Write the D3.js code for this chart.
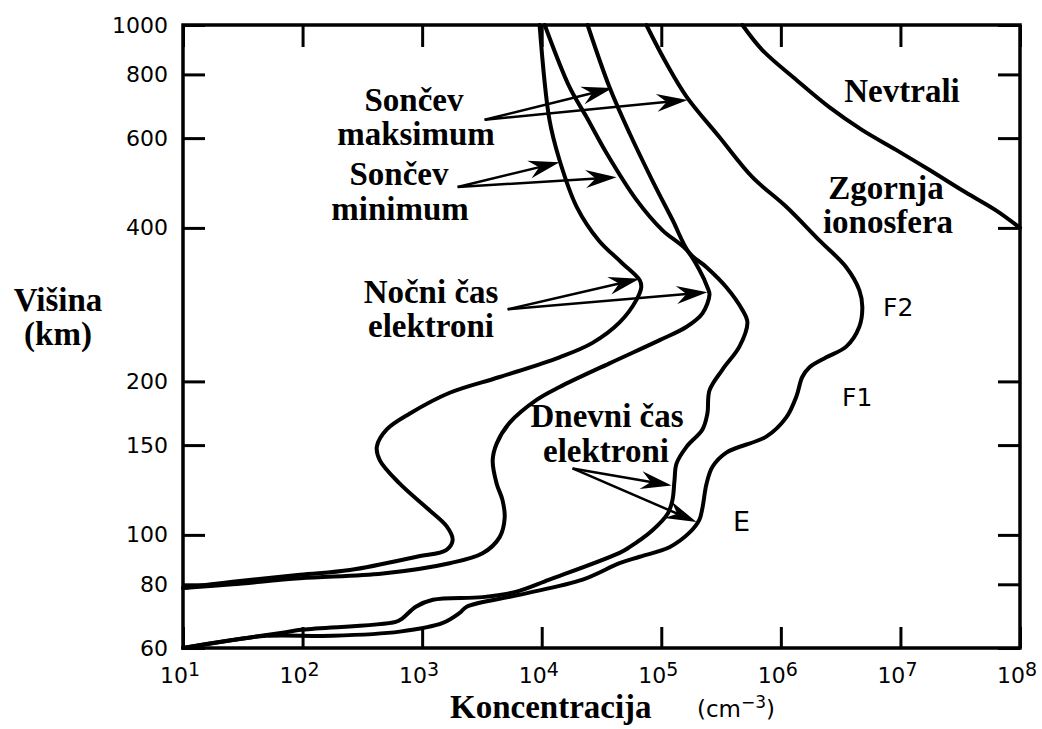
<!DOCTYPE html>
<html>
<head>
<meta charset="utf-8">
<script src="https://cdn.jsdelivr.net/npm/d3@7"></script>
<style>
  body { margin: 0; background: #fff; }
  .serif { font-family: "Liberation Serif", "Times New Roman", serif; font-weight: bold; font-size: 33px; }
  .sans { font-family: "DejaVu Sans", sans-serif; }
</style>
</head>
<body>
<svg id="chart" width="1042" height="729"></svg>
<script>
// tick values
var altTicks = [60, 80, 100, 150, 200, 400, 600, 800, 1000];
var concTicks = [1e1, 1e2, 1e3, 1e4, 1e5, 1e6, 1e7, 1e8];

// profiles: [concentration cm^-3, altitude km]
var neutrals = [[4.77e5,1000],[7.0e5,893],[1.35e6,780],[2.54e6,690],[4.8e6,622],[9.2e6,569],
  [1.74e7,520],[3.28e7,474],[6.3e7,433],[1e8,400]];

var nightLow = [[9.6e3,1000],[1.16e4,652],[1.41e4,543],[1.96e4,440],[3.0e4,378],[4.6e4,343],
  [6.6e4,316],[6.8e4,306],[6.2e4,289],[4.48e4,261],[2.66e4,238],[1.41e4,223],[4.45e3,204],
  [1.7e3,190],[790,173],[506,161],[418,149],[443,140],[650,126],[1.09e3,113],[1.6e3,104],
  [1.8e3,97.8],[1.6e3,93.5],[900,90.6],[248,85.3],[95,83.5],[26,80.9],[10,78.7]];

var nightHigh = [[1.06e4,1000],[1.71e4,755],[2.37e4,660],[3.48e4,561],[6.2e4,454],[1.02e5,396],
  [1.63e5,362],[2.08e5,331],[2.43e5,306],[2.53e5,296],[2.21e5,272],[1.63e5,256],[9.7e4,241],
  [3.69e4,217],[1.41e4,195],[9.06e3,184],[5.4e3,166],[4.2e3,151],[3.89e3,140],[4.2e3,126],
  [4.7e3,117],[4.9e3,108],[4.45e3,99],[3.2e3,92],[1.7e3,88],[469,84],[95,82.2],[26,80],[10,78.7]];

var dayLow = [[2.42e4,1000],[3.69e4,755],[5.42e4,614],[8.4e4,496],[1.24e5,415],[1.72e5,357],
  [2.39e5,335],[3.5e5,306],[4.77e5,276],[5.25e5,261],[4.5e5,234],[3.25e5,211],[2.53e5,192],
  [2.43e5,173],[2.21e5,161],[1.63e5,149],[1.34e5,138],[1.29e5,128],[1.24e5,117],[1.13e5,110],
  [8.4e4,102],[5.42e4,94.6],[4.48e4,92.2],[1.16e4,81.7],[6.05e3,77.3],[3.2e3,75.5],[1.23e3,74.6],
  [885,72.3],[689,68.7],[601,67.5],[101,65.2],[68,64.3],[26,62.2],[10,60]];

var dayHigh = [[7.5e4,1000],[1.1e5,842],[1.63e5,723],[3.06e5,603],[5.78e5,503],[1.11e6,440],
  [2.1e6,378],[3.52e6,335],[4.53e6,302],[4.8e6,280],[4.53e6,256],[3.52e6,234],[2.4e6,223],
  [1.73e6,213],[1.51e6,204],[1.35e6,187],[1.11e6,170],[7.6e5,156],[3.5e5,145],[2.68e5,136],
  [2.39e5,126],[2.21e5,113],[2.08e5,107],[1.72e5,101],[1.17e5,94.6],[6.6e4,90.6],[4.48e4,88],
  [2.2e4,81.7],[6.5e3,76.3],[2.36e3,72.3],[2.06e3,70.3],[1.49e3,67.2],[650,64.6],[179,63.4],
  [50,63.4],[26,62.2],[10,60]];

// annotation arrows: common start, two tips each
var arrowStarts = [[3.33e3,652],[1.98e3,481],[5.19e3,277],[1.81e4,135]];
var arrowTips = [
  [[3.91e4,752],[1.66e5,713]],
  [[1.41e4,538],[4.23e4,503]],
  [[6.58e4,318],[2.43e5,299]],
  [[1.22e5,125],[1.97e5,106]]
];

var svg = d3.select("#chart");
svg.append("rect").attr("width", 1042).attr("height", 729).attr("fill", "#fff");

var x = d3.scaleLog().domain([1e1, 1e8]).range([183, 1020]);
var y = d3.scaleLog().domain([60, 1000]).range([648, 25]);

function styleAxis(g) {
  g.select(".domain").remove();
  g.selectAll(".tick line").attr("stroke", "#000").attr("stroke-width", 3);
  g.attr("font-family", "DejaVu Sans").attr("font-size", 22);
  g.selectAll("text").attr("fill", "#000");
}

//axes
svg.append("g").attr("transform", "translate(183,0)")
  .call(d3.axisLeft(y).tickValues(altTicks).tickFormat(d3.format("d"))
    .tickSize(-22).tickSizeOuter(0).tickPadding(15))
  .call(styleAxis);
svg.append("g").attr("transform", "translate(1020,0)")
  .call(d3.axisRight(y).tickValues(altTicks).tickFormat("").tickSize(-22).tickSizeOuter(0))
  .call(styleAxis);
svg.append("g").attr("transform", "translate(0,25)")
  .call(d3.axisTop(x).tickValues(concTicks).tickFormat("").tickSize(-22).tickSizeOuter(0))
  .call(styleAxis);
svg.append("g").attr("transform", "translate(0,648)")
  .call(d3.axisBottom(x).tickValues(concTicks).tickFormat("").tickSize(-21).tickSizeOuter(0))
  .call(styleAxis);

svg.append("rect")
  .attr("x", 183).attr("y", 25).attr("width", 837).attr("height", 623)
  .attr("fill", "none").attr("stroke", "#000").attr("stroke-width", 3.5);

// bottom labels 10^n
var xl = svg.append("g").attr("class", "sans").attr("font-size", 22);
concTicks.forEach(function(d) {
  var t = xl.append("text").attr("x", x(d) - 3).attr("y", 683).attr("text-anchor", "middle");
  t.append("tspan").text("10");
  t.append("tspan").attr("dy", -7).attr("font-size", 19).text(Math.round(Math.log10(d)));
});

//curves
var line = d3.line()
  .x(function(d) { return x(d[0]); })
  .y(function(d) { return y(d[1]); })
  .curve(d3.curveCatmullRom.alpha(0.5));

svg.append("g").selectAll("path")
  .data([neutrals, nightLow, nightHigh, dayLow, dayHigh])
  .join("path")
  .attr("d", line)
  .attr("fill", "none").attr("stroke", "#000").attr("stroke-width", 4)
  .attr("stroke-linejoin", "round").attr("stroke-linecap", "round");

//arrows
var ag = svg.append("g");
arrowStarts.forEach(function(s, i) {
  arrowTips[i].forEach(function(t) {
    var x0 = x(s[0]), y0 = y(s[1]), x1 = x(t[0]), y1 = y(t[1]);
    var ang = Math.atan2(y1 - y0, x1 - x0);
    ag.append("line")
      .attr("x1", x0).attr("y1", y0)
      .attr("x2", x1 - 12 * Math.cos(ang)).attr("y2", y1 - 12 * Math.sin(ang))
      .attr("stroke", "#000").attr("stroke-width", 2.5);
    ag.append("path")
      .attr("d", "M0,0 L-31,-9 L-21,0 L-31,9 Z")
      .attr("transform", "translate(" + x1 + "," + y1 + ") rotate(" + (ang * 180 / Math.PI) + ")")
      .attr("fill", "#000");
  });
});

// texts
function label(txt, px, py, cls, anchor, size) {
  var t = svg.append("text").attr("class", cls).attr("x", px).attr("y", py)
    .attr("text-anchor", anchor || "middle").attr("fill", "#000").text(txt);
  if (size) t.attr("font-size", size);
  return t;
}
label("Sončev", 414, 111, "serif");
label("maksimum", 416, 145, "serif");
label("Sončev", 399, 185, "serif");
label("minimum", 400, 220, "serif");
label("Nočni čas", 431, 303, "serif");
label("elektroni", 431, 337, "serif");
label("Dnevni čas", 607, 427, "serif");
label("elektroni", 606, 462, "serif");
label("Nevtrali", 902, 102, "serif");
label("Zgornja", 886, 199, "serif");
label("ionosfera", 888, 233, "serif");
label("Višina", 58, 311, "serif");
label("(km)", 58, 345, "serif");
label("Koncentracija", 450, 718, "serif", "start");
label("F2", 883, 316, "sans", "start", 25);
label("F1", 842, 406, "sans", "start", 25);
label("E", 733, 531, "sans", "start", 27);

var unit = svg.append("text").attr("class", "sans").attr("x", 697).attr("y", 717)
  .attr("font-size", 23).attr("fill", "#000");
unit.append("tspan").text("(cm");
unit.append("tspan").attr("dy", -9).attr("font-size", 17).text("−3");
unit.append("tspan").attr("dy", 9).text(")");
</script>
</body>
</html>
